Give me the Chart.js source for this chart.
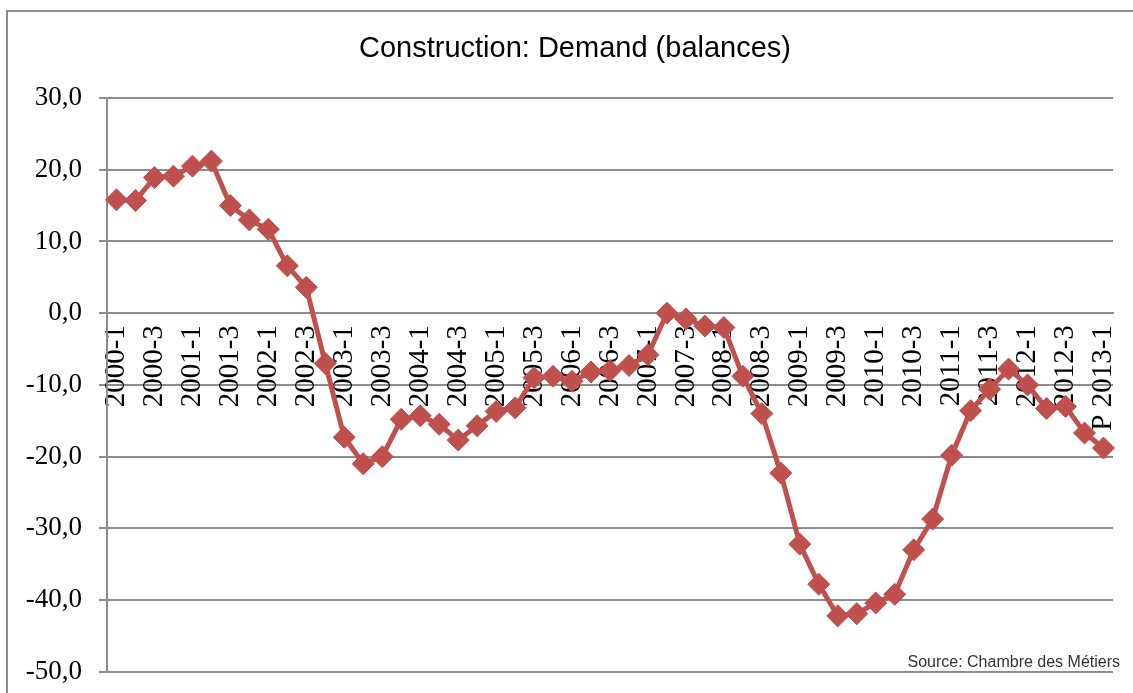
<!DOCTYPE html>
<html>
<head>
<meta charset="utf-8">
<script src="https://cdn.jsdelivr.net/npm/chart.js@4/dist/chart.umd.min.js"></script>
<style>
  html, body { margin: 0; padding: 0; background: #fff; overflow: hidden; }
  #wrap { position: relative; width: 1133px; height: 693px; overflow: hidden; }
  #frame { position: absolute; left: 6px; top: 10px; width: 1200px; height: 800px; border: 2px solid #8c8c8c; box-sizing: border-box; }
  #chart { position: absolute; left: 0; top: 0; }
</style>
</head>
<body>
<div id="wrap">
  <div id="frame"></div>
  <canvas id="chart" width="1151" height="705"></canvas>
</div>
<script>
// quarterly periods, 2000-1 .. 2013-1 (last one is a forecast)
const periods = [
  '2000-1', '2000-2', '2000-3', '2000-4',
  '2001-1', '2001-2', '2001-3', '2001-4',
  '2002-1', '2002-2', '2002-3', '2002-4',
  '2003-1', '2003-2', '2003-3', '2003-4',
  '2004-1', '2004-2', '2004-3', '2004-4',
  '2005-1', '2005-2', '2005-3', '2005-4',
  '2006-1', '2006-2', '2006-3', '2006-4',
  '2007-1', '2007-2', '2007-3', '2007-4',
  '2008-1', '2008-2', '2008-3', '2008-4',
  '2009-1', '2009-2', '2009-3', '2009-4',
  '2010-1', '2010-2', '2010-3', '2010-4',
  '2011-1', '2011-2', '2011-3', '2011-4',
  '2012-1', '2012-2', '2012-3', '2012-4',
  'P 2013-1'
];

// demand balances
const demand = [
  15.8, 15.7, 18.9, 19.1,
  20.5, 21.2, 15.0, 13.0,
  11.7, 6.6, 3.6, -7.0,
  -17.3, -21.0, -20.0, -14.8,
  -14.3, -15.5, -17.7, -15.7,
  -13.7, -13.2, -9.0, -8.8,
  -9.5, -8.2, -8.0, -7.3,
  -5.8, 0.0, -0.8, -1.8,
  -2.0, -8.8, -14.0, -22.3,
  -32.2, -37.8, -42.2, -41.9,
  -40.4, -39.2, -33.0, -28.7,
  -19.8, -13.6, -10.6, -7.8,
  -10.0, -13.3, -13.0, -16.7,
  -18.8
];

const yMin = -50, yMax = 30, yStep = 10;
const titleText = 'Construction: Demand (balances)';
const sourceText = 'Source: Chambre des Métiers';

const gridGray = '#8c8c8c';
const lineRed = '#c0504d';

// title and source note, placed like in the original sheet
const textNotes = {
  id: 'textNotes',
  afterDraw(chart) {
    const ctx = chart.ctx;
    ctx.save();
    ctx.fillStyle = '#000';
    ctx.textAlign = 'center';
    ctx.textBaseline = 'middle';
    ctx.font = '29px "Liberation Sans", Arial, sans-serif';
    ctx.fillText(titleText, 575, 49);

    ctx.font = '16px "Liberation Sans Narrow", "Liberation Sans", Arial, sans-serif';
    ctx.fillStyle = '#333';
    ctx.textAlign = 'right';
    ctx.textBaseline = 'alphabetic';
    ctx.fillText(sourceText, 1120, 667);
    ctx.restore();
  }
};

new Chart(document.getElementById('chart'), {
  type: 'line',
  data: {
    labels: periods,
    datasets: [{
      label: 'Demand',
      data: demand,
      borderColor: lineRed,
      backgroundColor: lineRed,
      borderWidth: 5,
      pointStyle: 'rectRot',
      pointRadius: 11,
      pointBorderWidth: 1,
      pointBorderColor: lineRed,
      pointBackgroundColor: lineRed,
      tension: 0
    }]
  },
  options: {
    responsive: false,
    animation: false,
    layout: { padding: { left: 0, right: 38, top: 98, bottom: 10 } },
    plugins: {
      legend: { display: false },
      tooltip: { enabled: false },
      title: { display: false }
    },
    scales: {
      x: {
        position: { y: 0 },
        offset: true,
        grid: { display: false },
        border: { display: true, color: gridGray, width: 2 },
        ticks: {
          autoSkip: false,
          maxRotation: 90,
          minRotation: 90,
          padding: 4,
          color: '#000',
          font: { family: '"Liberation Serif", "Times New Roman", serif', size: 29 },
          callback: function(value, index) {
            return index % 2 === 0 ? this.getLabelForValue(value) : '';
          }
        }
      },
      y: {
        min: yMin,
        max: yMax,
        afterFit: scale => { scale.width = 107; },
        grid: { color: gridGray, lineWidth: 2, tickLength: 8, drawTicks: true },
        border: { display: true, color: gridGray, width: 2 },
        ticks: {
          stepSize: yStep,
          padding: 17,
          color: '#000',
          font: { family: '"Liberation Serif", "Times New Roman", serif', size: 27 },
          callback: v => v.toFixed(1).replace('.', ',')
        }
      }
    }
  },
  plugins: [textNotes]
});
</script>
</body>
</html>
